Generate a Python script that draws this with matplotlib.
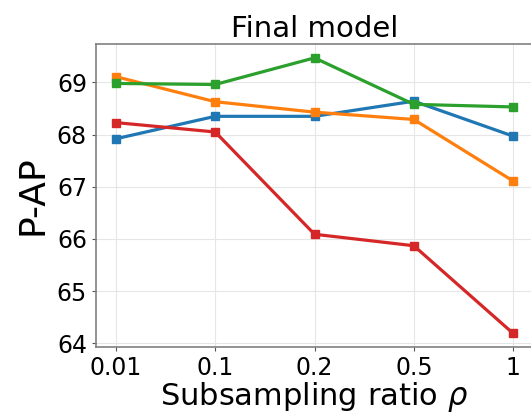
import matplotlib
matplotlib.use("Agg")
import matplotlib.pyplot as plt

ratios = ["0.01", "0.1", "0.2", "0.5", "1"]
blue = [67.92, 68.35, 68.35, 68.64, 67.97]
orange = [69.11, 68.63, 68.43, 68.29, 67.11]
green = [68.98, 68.96, 69.47, 68.58, 68.53]
red = [68.23, 68.05, 66.09, 65.87, 64.19]

fig = plt.figure(figsize=(5.31, 4.13), dpi=100)
ax = fig.add_axes([0.1808, 0.1605, 0.823, 0.7322])
x = list(range(len(ratios)))
for vals, c in [(blue, "#1f77b4"), (orange, "#ff7f0e"), (green, "#2ca02c"), (red, "#d62728")]:
    ax.plot(x, vals, color=c, marker="s", markersize=6, linewidth=2.3)

ax.set_xlim(-0.2, 4.2)
ax.set_ylim(63.935, 69.73)
ax.set_xticks(x)
ax.set_xticklabels(ratios)
ax.set_yticks([64, 65, 66, 67, 68, 69])
ax.tick_params(labelsize=17, length=3, color="#555555")
ax.grid(True, color="#e6e6e6", linewidth=0.8)
ax.set_axisbelow(True)
for s in ax.spines.values():
    s.set_color("#808080")
    s.set_linewidth(1.2)
ax.set_title("Final model", fontsize=21, pad=5)
ax.set_xlabel("Subsampling ratio $\\rho$", fontsize=22, labelpad=0)
ax.set_ylabel("P-AP", fontsize=26, labelpad=5)
fig.savefig("out.png", dpi=100)
